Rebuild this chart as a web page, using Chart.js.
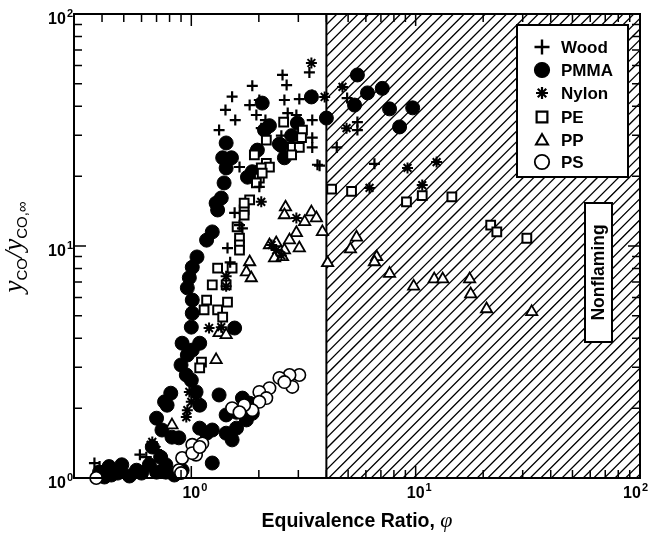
<!DOCTYPE html>
<html><head><meta charset="utf-8">
<style>html,body{margin:0;padding:0;background:#fff}#wrap{width:649px;height:552px}</style>
</head><body><div id="wrap"><canvas id="c" width="649" height="552"></canvas></div>
<script src="https://cdn.jsdelivr.net/npm/chart.js@4.4.0/dist/chart.umd.min.js"></script>
<script>
// ---- data: [equivalence ratio phi, yCO / yCO,inf] ----
const wood = [[2.55,54.6],[3.36,56],[2.66,49.4],[1.87,49],[1.52,44],[2.6,42.6],[3.03,43],[1.82,40.5],[2.01,42.6],[1.42,38.6],[1.57,34.9],[1.95,36.7],[2.14,34.9],[2.69,37.4],[2.94,36.7],[3.46,34.9],[1.33,31.6],[2.05,32.2],[2.52,29.9],[3.46,29.3],[3.46,26.6],[1.64,21.9],[3.73,22.2],[2.01,18],[1.56,13.9],[4.95,43.4],[5.5,34.2],[5.5,31.6],[4.45,26.6],[3.65,22.4],[6.55,22.6],[0.37,1.16],[0.39,1.12],[0.59,1.26],[0.63,1.23],[1.64,12.3],[1.45,9.8],[1.49,8.5],[1.69,11.9]];
const pmma = [[2.07,41.3],[1.43,27.8],[1.38,24],[1.51,24],[1.43,21.7],[1.40,18.7],[1.36,16.1],[1.31,14.3],[1.78,19.8],[1.87,20.9],[1.97,25.9],[2.97,33.9],[2.8,29.9],[2.52,27.1],[2.6,24],[2.12,31.6],[3.43,43.9],[4.0,35.6],[5.5,54.6],[6.1,45.7],[7.1,47.8],[5.34,40.5],[7.65,39],[9.7,39.4],[8.48,32.6],[1.29,15.3],[1.24,11.5],[1.17,10.6],[1.06,8.97],[1.01,8.1],[0.98,7.3],[0.96,6.6],[1.01,5.85],[1.01,5.13],[1.0,4.47],[0.91,3.81],[0.96,3.39],[0.90,3.07],[0.95,2.78],[1.56,4.43],[1.09,3.81],[1.01,3.56],[1.0,2.64],[1.05,2.35],[1.09,2.06],[0.81,2.32],[0.76,2.13],[0.70,1.81],[0.74,1.61],[0.82,1.50],[0.67,1.36],[0.73,1.23],[0.65,1.14],[0.49,1.14],[0.43,1.12],[0.39,1.06],[0.57,1.08],[0.77,1.06],[0.91,1.08],[1.33,2.28],[1.24,1.16],[1.09,1.64],[1.17,1.56],[1.24,1.61],[1.43,1.56],[1.52,1.46],[1.59,1.64],[1.43,1.87],[1.59,1.92],[1.69,2.21],[1.82,2.1],[1.76,1.78],[1.87,1.9],[0.41,1.01],[0.44,1.03],[0.70,1.06],[0.77,1.14],[0.78,2.06],[0.88,1.49],[0.53,1.02],[0.60,1.05],[0.47,1.05],[0.84,1.03],[2.23,33.0],[2.47,27.5]];
const nylon = [[3.43,61.5],[4.72,48.5],[4.92,32.2],[3.46,44.8],[3.93,43.9],[12.4,23],[9.2,21.7],[6.23,17.8],[10.7,18.3],[2.05,15.5],[2.94,13.2],[2.39,9.6],[2.28,10.1],[2.52,9.1],[1.43,7.4],[1.43,6.7],[1.2,4.43],[1.05,2.23],[1.0,2.13],[0.96,1.96],[0.95,1.83],[0.66,1.39],[0.70,1.32],[0.67,1.43],[1.36,4.47],[0.98,2.35]];
const pe = [[2.58,34.2],[3.13,31.6],[3.1,29.3],[2.82,26.6],[3.03,26.6],[2.8,24.7],[2.16,28.6],[1.91,24.7],[2.16,22.7],[2.23,21.9],[2.05,21.7],[2.01,19.6],[2.07,20.6],[1.95,18.7],[1.82,15.8],[1.72,14.3],[4.22,17.6],[5.18,17.2],[9.1,15.5],[10.7,16.5],[14.5,16.3],[21.6,12.3],[23,11.5],[31.3,10.8],[1.72,15.3],[1.72,13.6],[1.6,12.1],[1.64,10.8],[1.64,10.1],[1.64,9.6],[1.31,8.03],[1.52,8.03],[1.24,6.8],[1.43,6.8],[1.17,5.85],[1.45,5.73],[1.14,5.3],[1.31,5.3],[1.38,4.94],[1.11,3.16],[1.09,2.98]];
const pp = [[2.63,14.7],[2.6,13.6],[3.43,14],[3.61,13.2],[3.2,12.7],[3.84,11.5],[2.94,11.4],[2.74,10.6],[3.03,9.8],[2.23,10.1],[2.39,10.3],[2.6,9.6],[2.35,8.87],[2.55,8.97],[1.82,8.53],[1.76,7.72],[1.85,7.28],[4.05,8.45],[1.33,4.22],[1.43,4.14],[1.29,3.23],[5.45,10.9],[5.12,9.7],[6.7,8.97],[6.55,8.53],[7.65,7.6],[9.8,6.7],[12.1,7.2],[13.2,7.2],[17.4,7.2],[17.6,6.2],[20.7,5.35],[32.9,5.2],[0.82,1.69]];
const ps = [[3.03,2.78],[2.74,2.78],[2.47,2.7],[2.82,2.47],[2.23,2.44],[2.01,2.35],[2.16,2.21],[2.01,2.13],[1.87,1.96],[1.52,2.0],[1.12,1.41],[1.01,1.39],[1.05,1.26],[0.91,1.22],[0.88,1.08],[0.90,1.05],[0.377,1.0],[1.01,1.28],[1.09,1.36],[1.72,2.06],[1.64,1.92],[2.6,2.59]];

const seriesNames = ['Wood','PMMA','Nylon','PE','PP','PS'];
const nonflamingFrom = 4;        // shaded region starts at phi = 4
const xRange = [0.3, 100];
const yRange = [1, 100];
const xMajorTicks = [1, 10, 100];
const yMajorTicks = [1, 10, 100];
const xMinorTicks = [0.3,0.4,0.5,0.6,0.7,0.8,0.9,2,3,4,5,6,7,8,9,20,30,40,50,60,70,80,90];
const yMinorTicks = [2,3,4,5,6,7,8,9,20,30,40,50,60,70,80,90];
const xTitle = 'Equivalence Ratio, ';
const regionLabel = 'Nonflaming';

const SANS = '"Liberation Sans", Arial, Helvetica, sans-serif';
const SERIF = '"Liberation Serif", "Times New Roman", serif';

const styles = [
  {pointStyle:'cross', radius:5.5, borderWidth:2.2, backgroundColor:'#000', legendR:7.5, order:1},
  {pointStyle:'circle', radius:7, borderWidth:1, backgroundColor:'#000', legendR:7.5, order:10},
  {pointStyle:'star', radius:5.5, borderWidth:2, backgroundColor:'#000', legendR:6, order:1},
  {pointStyle:'rect', radius:6.2, borderWidth:2, backgroundColor:'#fff', legendR:7.6, order:1},
  {pointStyle:'triangle', radius:6.5, borderWidth:1.8, backgroundColor:'#fff', legendR:7, order:1},
  {pointStyle:'circle', radius:6.2, borderWidth:1.6, backgroundColor:'#fff', legendR:7.2, order:2}
];
const allSeries = [wood, pmma, nylon, pe, pp, ps];

const datasets = allSeries.map((arr, i) => ({
  label: seriesNames[i],
  data: arr.map(p => ({x:p[0], y:p[1]})),
  pointStyle: styles[i].pointStyle,
  pointRadius: styles[i].radius,
  pointBorderWidth: styles[i].borderWidth,
  pointBackgroundColor: styles[i].backgroundColor,
  pointBorderColor: '#000',
  showLine: false,
  clip: false,
  order: styles[i].order
}));

function drawMarker(ctx, style, cx, cy, r, fill, lw){
  ctx.save();
  ctx.lineWidth = lw; ctx.strokeStyle = '#000'; ctx.fillStyle = fill;
  ctx.beginPath();
  if (style === 'cross' || style === 'star') {
    ctx.moveTo(cx - r, cy); ctx.lineTo(cx + r, cy);
    ctx.moveTo(cx, cy - r); ctx.lineTo(cx, cy + r);
    if (style === 'star') {
      const d = r * Math.SQRT1_2;
      ctx.moveTo(cx - d, cy - d); ctx.lineTo(cx + d, cy + d);
      ctx.moveTo(cx - d, cy + d); ctx.lineTo(cx + d, cy - d);
    }
    ctx.stroke();
  } else {
    if (style === 'circle') ctx.arc(cx, cy, r, 0, Math.PI * 2);
    else if (style === 'rect') { const s = r * Math.SQRT1_2; ctx.rect(cx - s, cy - s, 2 * s, 2 * s); }
    else if (style === 'triangle') {
      for (let k = 0; k < 3; k++) {
        const a = k * 2 * Math.PI / 3;
        const px = cx + Math.sin(a) * r, py = cy - Math.cos(a) * r + r * 0.15;
        k ? ctx.lineTo(px, py) : ctx.moveTo(px, py);
      }
      ctx.closePath();
    }
    ctx.fill(); ctx.stroke();
  }
  ctx.restore();
}

const TICK_FONT = 'bold 16px ' + SANS;
const SUP_FONT = 'bold 11px ' + SANS;
function powLabel(ctx, e, x, base, mode, W){
  ctx.font = TICK_FONT; const w1 = ctx.measureText('10').width;
  ctx.font = SUP_FONT; const w2 = ctx.measureText(String(e)).width;
  let left;
  if (mode === 'center') { left = x - w1 / 2; if (left + w1 + w2 + 1 > W - 1) left = W - 2 - w1 - w2; }
  else left = x - w1 - w2 - 1;
  ctx.textAlign = 'left'; ctx.textBaseline = 'alphabetic'; ctx.fillStyle = '#000';
  ctx.font = TICK_FONT; ctx.fillText('10', left, base);
  ctx.font = SUP_FONT; ctx.fillText(String(e), left + w1 + 1, base - 7);
}

const decor = {
  id: 'decor',
  beforeDatasetsDraw(chart){
    const {ctx, chartArea: a} = chart;
    const xs = chart.scales.x;
    const x0 = xs.getPixelForValue(nonflamingFrom);
    ctx.save();
    ctx.beginPath(); ctx.rect(x0, a.top, a.right - x0, a.bottom - a.top); ctx.clip();
    ctx.beginPath(); ctx.strokeStyle = '#000'; ctx.lineWidth = 1.3;
    const h = a.bottom - a.top;
    for (let s = x0 - h; s < a.right + 2; s += 10.6) { ctx.moveTo(s, a.bottom); ctx.lineTo(s + h, a.top); }
    ctx.stroke();
    ctx.restore();
    ctx.save(); ctx.strokeStyle = '#000'; ctx.lineWidth = 2;
    ctx.beginPath(); ctx.moveTo(x0, a.top); ctx.lineTo(x0, a.bottom); ctx.stroke();
    ctx.restore();
  },
  afterDraw(chart){
    const {ctx, chartArea: a, width: W} = chart;
    const xs = chart.scales.x, ys = chart.scales.y;
    ctx.save();
    ctx.strokeStyle = '#000'; ctx.lineWidth = 2;
    ctx.strokeRect(a.left, a.top, a.right - a.left, a.bottom - a.top);
    ctx.lineWidth = 1.5; ctx.beginPath();
    const tx = (v, len) => { const p = xs.getPixelForValue(v);
      ctx.moveTo(p, a.bottom); ctx.lineTo(p, a.bottom - len);
      ctx.moveTo(p, a.top); ctx.lineTo(p, a.top + len); };
    const ty = (v, len) => { const p = ys.getPixelForValue(v);
      ctx.moveTo(a.left, p); ctx.lineTo(a.left + len, p);
      ctx.moveTo(a.right, p); ctx.lineTo(a.right - len, p); };
    xMajorTicks.forEach(v => tx(v, 12)); xMinorTicks.forEach(v => tx(v, 8));
    yMajorTicks.forEach(v => ty(v, 12)); yMinorTicks.forEach(v => ty(v, 8));
    ctx.stroke();
    xMajorTicks.forEach(v => powLabel(ctx, Math.round(Math.log10(v)), xs.getPixelForValue(v), a.bottom + 20, 'center', W));
    yMajorTicks.forEach(v => powLabel(ctx, Math.round(Math.log10(v)), a.left - 1, ys.getPixelForValue(v) + 10, 'right', W));
    ctx.fillStyle = '#000'; ctx.textBaseline = 'alphabetic'; ctx.textAlign = 'left';
    const f1 = 'bold 19.5px ' + SANS, f2 = 'italic 22px ' + SERIF;
    ctx.font = f1; const w1 = ctx.measureText(xTitle).width;
    ctx.font = f2; const w2 = ctx.measureText('\u03C6').width;
    const cx = (a.left + a.right) / 2;
    let sx = cx - (w1 + w2) / 2;
    ctx.font = f1; ctx.fillText(xTitle, sx, 527);
    ctx.font = f2; ctx.fillText('\u03C6', sx + w1, 527);
    ctx.save();
    ctx.translate(22, 247); ctx.rotate(-Math.PI / 2);
    const segs = [
      {t:'y', f:'italic 27px ' + SERIF, dy:0},
      {t:'CO', f:'15px ' + SANS, dy:5},
      {t:'/', f:'italic 26px ' + SERIF, dy:0},
      {t:'y', f:'italic 27px ' + SERIF, dy:0},
      {t:'CO,\u221E', f:'15px ' + SANS, dy:5}
    ];
    let tot = 0;
    segs.forEach(s => { ctx.font = s.f; s.w = ctx.measureText(s.t).width; tot += s.w; });
    let px = -tot / 2;
    segs.forEach(s => { ctx.font = s.f; ctx.fillText(s.t, px, s.dy); px += s.w; });
    ctx.restore();
    const lx = 517, ly = 25, lw = 111, lh = 152;
    ctx.fillStyle = '#fff'; ctx.fillRect(lx, ly, lw, lh);
    ctx.strokeStyle = '#000'; ctx.lineWidth = 2; ctx.strokeRect(lx, ly, lw, lh);
    const rows = [47, 70, 93, 117, 140, 162];
    chart.data.datasets.forEach((ds, i) => {
      const st = styles[i];
      drawMarker(ctx, st.pointStyle, 542, rows[i], st.legendR, st.backgroundColor, st.borderWidth + 0.2);
      ctx.fillStyle = '#000'; ctx.font = 'bold 17px ' + SANS;
      ctx.textAlign = 'left'; ctx.textBaseline = 'middle';
      ctx.fillText(ds.label, 561, rows[i] + 1);
    });
    const bx = 585, by = 203, bw = 27, bh = 139;
    ctx.fillStyle = '#fff'; ctx.fillRect(bx, by, bw, bh);
    ctx.strokeStyle = '#000'; ctx.lineWidth = 2; ctx.strokeRect(bx, by, bw, bh);
    ctx.save();
    ctx.translate(bx + bw / 2 + 1, by + bh / 2); ctx.rotate(-Math.PI / 2);
    ctx.fillStyle = '#000'; ctx.font = 'bold 17.5px ' + SANS;
    ctx.textAlign = 'center'; ctx.textBaseline = 'middle';
    ctx.fillText(regionLabel, 0, 0);
    ctx.restore();
    ctx.restore();
  }
};

new Chart(document.getElementById('c'), {
  type: 'scatter',
  data: { datasets },
  options: {
    responsive: false,
    animation: false,
    devicePixelRatio: 1,
    layout: { padding: { left: 74, right: 9, top: 14, bottom: 74 } },
    scales: {
      x: { type: 'logarithmic', min: xRange[0], max: xRange[1], display: false },
      y: { type: 'logarithmic', min: yRange[0], max: yRange[1], display: false }
    },
    plugins: { legend: { display: false }, tooltip: { enabled: false } }
  },
  plugins: [decor]
});
</script>
</body></html>
